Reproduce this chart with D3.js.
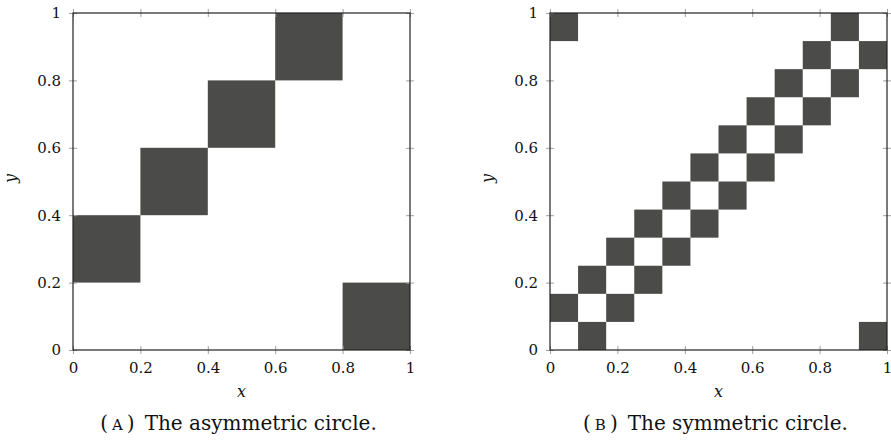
<!DOCTYPE html>
<html>
<head>
<meta charset="utf-8">
<script src="https://cdn.jsdelivr.net/npm/d3@7"></script>
<style>
  html, body { margin: 0; padding: 0; background: #fff; }
  svg text { font-family: "DejaVu Serif", serif; fill: #111; }
</style>
</head>
<body>
<svg id="chart" width="891" height="440"></svg>
<script>
// Tick values shared by both panels
const tickValues = [0, 0.2, 0.4, 0.6, 0.8, 1];
const tickLabels = ["0", "0.2", "0.4", "0.6", "0.8", "1"];

// Panel A: filled squares of side 0.2, given by lower-left corner [x, y]
const asymSize = 0.2;
const asymCells = [[0, 0.2], [0.2, 0.4], [0.4, 0.6], [0.6, 0.8], [0.8, 0]];

// Panel B: 12 x 12 grid, filled cells as [column, row] (row 0 at bottom)
const symGrid = 12;
const symCells = [
  [0, 1], [0, 11], [1, 0], [1, 2], [2, 1], [2, 3], [3, 2], [3, 4],
  [4, 3], [4, 5], [5, 4], [5, 6], [6, 5], [6, 7], [7, 6], [7, 8],
  [8, 7], [8, 9], [9, 8], [9, 10], [10, 9], [10, 11], [11, 10], [11, 0]
];

const captions = [
  { letter: "A", rest: "The asymmetric circle." },
  { letter: "B", rest: "The symmetric circle." }
];

const svg = d3.select("#chart");
const fillColor = "#4b4b49";
const tickColor = "#a0a0a0";
const serif = '"DejaVu Serif", serif';

function drawPanel(left, rects, caption) {
  const top = 13, w = 337, h = 337;
  const g = svg.append("g").attr("transform", `translate(${left},${top})`);
  const x = d3.scaleLinear().domain([0, 1]).range([0, w]);
  const y = d3.scaleLinear().domain([0, 1]).range([h, 0]);

  g.selectAll("rect.cell").data(rects).join("rect")
    .attr("class", "cell")
    .attr("x", d => x(d.x0))
    .attr("y", d => y(d.y1))
    .attr("width", d => x(d.x1) - x(d.x0))
    .attr("height", d => y(d.y0) - y(d.y1))
    .attr("fill", fillColor);

  // axes on all four sides; ticks straddle the frame line
  const fmt = (d, i) => tickLabels[i];
  const axes = [
    { a: d3.axisBottom(x), t: `translate(0,${h})`, labels: true },
    { a: d3.axisLeft(y), t: `translate(0,0)`, labels: true },
    { a: d3.axisTop(x), t: `translate(0,0)`, labels: false },
    { a: d3.axisRight(y), t: `translate(${w},0)`, labels: false }
  ];
  axes.forEach(({ a, t, labels }) => {
    const ax = g.append("g").attr("transform", t)
      .call(a.tickValues(tickValues).tickFormat(labels ? fmt : "")
        .tickSizeInner(4).tickSizeOuter(0).tickPadding(8));
    ax.attr("font-family", serif).attr("font-size", 15);
    ax.select(".domain").remove();
    ax.selectAll(".tick line").attr("stroke", tickColor).attr("stroke-width", 1)
      .each(function () {
        const l = d3.select(this);
        const x2 = +l.attr("x2") || 0, y2 = +l.attr("y2") || 0;
        l.attr("x1", -x2).attr("y1", -y2);
      });
    ax.selectAll(".tick text").attr("fill", "#111");
  });

  // frame
  g.append("rect").attr("x", 0).attr("y", 0).attr("width", w).attr("height", h)
    .attr("fill", "none").attr("stroke", "#222").attr("stroke-width", 1.2);

  // axis titles
  g.append("text").attr("x", w / 2).attr("y", h + 47)
    .attr("text-anchor", "middle").style("font-style", "italic").style("font-size", "16px")
    .text("x");
  g.append("text").attr("transform", `translate(-57,${h / 2 - 3}) rotate(-90)`)
    .attr("text-anchor", "middle").style("font-style", "italic").style("font-size", "16px")
    .text("y");

  // caption
  const cap = g.append("text").attr("x", w / 2 - 3).attr("y", h + 80)
    .attr("text-anchor", "middle").style("font-size", "20px");
  cap.append("tspan").text("(");
  cap.append("tspan").attr("dx", 4).style("font-size", "15px").text(caption.letter);
  cap.append("tspan").attr("dx", 4).text(")");
  cap.append("tspan").attr("dx", 10).text(caption.rest);
}

const asymRects = asymCells.map(([cx, cy]) => ({ x0: cx, y0: cy, x1: cx + asymSize, y1: cy + asymSize }));
const symRects = symCells.map(([c, r]) => ({
  x0: c / symGrid, y0: r / symGrid, x1: (c + 1) / symGrid, y1: (r + 1) / symGrid
}));

drawPanel(73, asymRects, captions[0]);
drawPanel(550, symRects, captions[1]);
</script>
</body>
</html>
